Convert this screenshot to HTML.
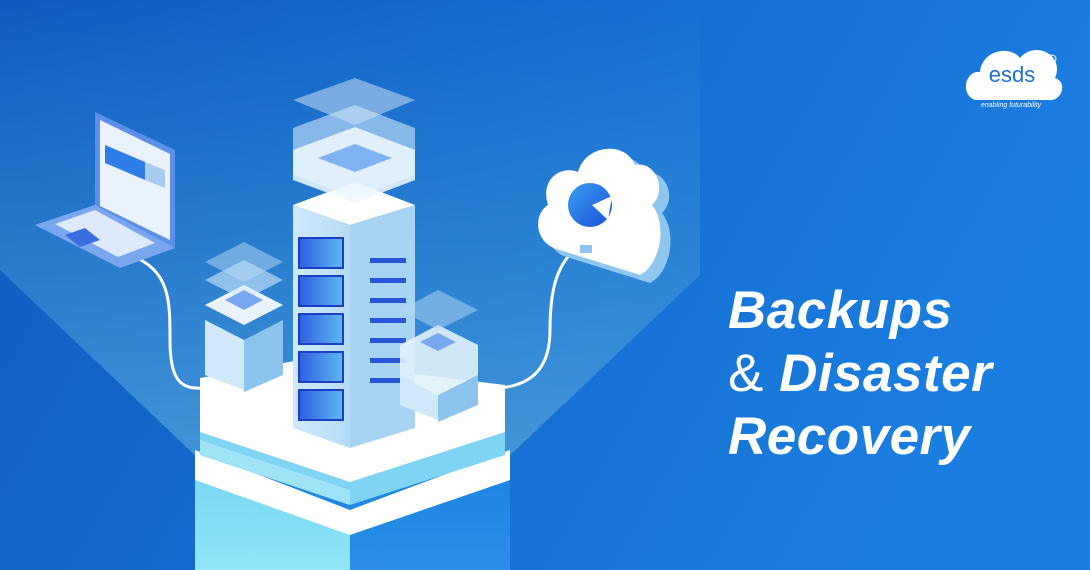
<!DOCTYPE html>
<html><head><meta charset="utf-8"><style>
html,body{margin:0;padding:0;width:1090px;height:570px;overflow:hidden}
.t{position:absolute;left:728px;color:#fff;font-family:"Liberation Sans",sans-serif;font-weight:bold;font-style:italic;font-size:53px;line-height:54px;letter-spacing:0.5px}
</style></head><body>
<div style="position:relative;width:1090px;height:570px">
<svg width="1090" height="570" viewBox="0 0 1090 570" style="position:absolute;left:0;top:0">
<defs>
<linearGradient id="bg" x1="0" y1="0" x2="1" y2="0.3"><stop offset="0" stop-color="#0f5bbd"/><stop offset="1" stop-color="#1a7ee0"/></linearGradient>
<linearGradient id="beam" x1="0" y1="0" x2="0" y2="1"><stop offset="0" stop-color="#3a90d6" stop-opacity="0"/><stop offset="0.35" stop-color="#3a90d6" stop-opacity="0.35"/><stop offset="1" stop-color="#4a9cd8" stop-opacity="0.85"/></linearGradient>
<linearGradient id="tw" x1="0" y1="0" x2="1" y2="0"><stop offset="0" stop-color="#cfe9fb"/><stop offset="1" stop-color="#b4dcf6"/></linearGradient>
<linearGradient id="base" x1="0" y1="0" x2="0" y2="1"><stop offset="0" stop-color="#7ad8f2"/><stop offset="1" stop-color="#8fe6f5"/></linearGradient>
<linearGradient id="baseR" x1="0" y1="0" x2="0" y2="1"><stop offset="0" stop-color="#1d86e0"/><stop offset="1" stop-color="#2a8fe6"/></linearGradient>
<linearGradient id="slot" x1="0" y1="0" x2="1" y2="0"><stop offset="0" stop-color="#2f5fe0"/><stop offset="1" stop-color="#5cb8f0"/></linearGradient>
<linearGradient id="pie" x1="0" y1="0" x2="1" y2="1"><stop offset="0" stop-color="#3aa0f0"/><stop offset="1" stop-color="#1a4fd8"/></linearGradient>
</defs>
<rect width="1090" height="570" fill="url(#bg)"/>
<polygon points="0,0 700,0 700,275 505,460 200,460 0,270" fill="url(#beam)"/>
<!-- platform -->
<polygon points="195,480 195,570 510,570 510,480" fill="url(#baseR)"/>
<polygon points="195,480 195,570 350,570 350,530" fill="url(#base)"/>
<polygon points="195,450 350,510 510,450 510,480 350,535 195,480" fill="#fff"/>
<polygon points="200,430 350,480 505,430 505,455 350,505 200,455" fill="#7fd3f3"/>
<polygon points="200,440 350,490 350,505 200,455" fill="#9ee4f6"/>
<polygon points="200,378 300,360 505,385 505,432 350,482 200,432" fill="#fff"/>
<!-- left small tower -->
<polygon points="205,320 244,340 244,390 205,375" fill="#cfe9fb"/>
<polygon points="244,340 283,320 283,375 244,392" fill="#8cc4ee"/>
<polygon points="205,305 244,285 283,305 244,325" fill="#fff" opacity="0.9"/>
<polygon points="205,280 244,260 283,280 244,300" fill="#d6ecfb" opacity="0.6"/>
<polygon points="205,262 244,242 283,262 244,282" fill="#b8d8f4" opacity="0.5"/>
<polygon points="225,300 244,290 263,300 244,310" fill="#7aa8f0"/>
<!-- main tower -->
<polygon points="293,205 350,225 350,448 293,428" fill="url(#tw)"/>
<polygon points="350,225 415,205 415,428 350,448" fill="#a7d4f2"/>
<polygon points="293,205 355,182 415,205 350,225" fill="#fff"/>
<polygon points="293,100 355,78 415,100 355,125" fill="#c9ddf4" opacity="0.55"/>
<polygon points="293,128 355,105 415,128 415,175 355,198 293,175" fill="#cde6fa" opacity="0.6"/>
<polygon points="293,150 355,127 415,150 415,180 355,203 293,180" fill="#eef8fe" opacity="0.85"/>
<polygon points="318,158 355,144 392,158 355,172" fill="#7fb2f2"/>
<g fill="url(#slot)" stroke="#1d3fc8" stroke-width="2">
<rect x="299" y="238" width="44" height="30"/>
<rect x="299" y="276" width="44" height="30"/>
<rect x="299" y="314" width="44" height="30"/>
<rect x="299" y="352" width="44" height="30"/>
<rect x="299" y="390" width="44" height="30"/>
</g>
<g fill="#2a55d8"><rect x="370" y="258" width="36" height="5"/><rect x="370" y="278" width="36" height="5"/><rect x="370" y="298" width="36" height="5"/><rect x="370" y="318" width="36" height="5"/><rect x="370" y="338" width="36" height="5"/><rect x="370" y="358" width="36" height="5"/><rect x="370" y="378" width="36" height="5"/></g>
<!-- right small tower -->
<polygon points="400,375 438,395 438,420 400,405" fill="#cfe9fb"/>
<polygon points="438,395 478,375 478,405 438,422" fill="#8cc4ee"/>
<polygon points="400,345 438,325 478,345 478,375 438,395 400,375" fill="#e0f2fc" opacity="0.9"/>
<polygon points="400,310 438,290 478,310 438,330" fill="#b8d8f4" opacity="0.5"/>
<polygon points="420,342 438,333 456,342 438,351" fill="#7aa8f0"/>
<!-- cables -->
<path d="M130,255 C170,270 170,300 170,340 C170,380 180,390 205,388" stroke="#fff" stroke-width="3" fill="none"/>
<path d="M585,240 C560,260 550,280 550,330 C550,370 530,385 500,388" stroke="#fff" stroke-width="3" fill="none"/>
<!-- laptop -->
<polygon points="95,112 175,150 175,248 95,210" fill="#5c8fe8"/>
<polygon points="100,120 170,154 170,240 100,206" fill="#e9f3fd"/>
<polygon points="105,145 145,162 145,180 105,163" fill="#2f7ee8"/>
<polygon points="145,162 165,170 165,188 145,180" fill="#a8cbf0"/>
<polygon points="35,225 95,205 175,248 120,268" fill="#7aa6ee"/>
<polygon points="55,224 95,210 155,243 118,257" fill="#dceafc"/>
<polygon points="65,235 85,228 100,240 80,247" fill="#3a6ee0"/>
<!-- cloud (standing) -->
<g transform="translate(10,8)">
<path d="M560,250 C535,245 532,215 548,205 C540,180 560,165 578,172 C585,145 625,140 635,165 C655,160 668,190 652,205 C668,225 660,265 640,275 Z" fill="#8ec6ef"/>
</g>
<path d="M560,250 C535,245 532,215 548,205 C540,180 560,165 578,172 C585,145 625,140 635,165 C655,160 668,190 652,205 C668,225 660,265 640,275 Z" fill="#fff"/>
<circle cx="590" cy="205" r="22" fill="url(#pie)"/>
<polygon points="592,205 612,196 608,220" fill="#fff"/>
<rect x="580" y="245" width="12" height="8" fill="#8ec6ef"/>
<!-- logo -->
<path d="M975,100 C960,95 965,70 980,72 C982,50 1010,45 1020,58 C1035,40 1065,55 1055,78 C1068,82 1062,102 1048,100 Z" fill="#fff"/>
<text x="1012" y="82" font-family="Liberation Sans,sans-serif" font-size="22" fill="#1d6fcf" text-anchor="middle">esds</text>
<text x="1011" y="107" font-family="Liberation Sans,sans-serif" font-size="7" font-style="italic" fill="#fff" text-anchor="middle">enabling futurability</text>
<circle cx="1052" cy="59" r="4" fill="none" stroke="#fff" stroke-width="1"/>
</svg>
<div class="t" style="top:284px">Backups</div>
<div class="t" style="top:347px"><span style="font-weight:normal;font-style:normal">&amp;</span> Disaster</div>
<div class="t" style="top:410px">Recovery</div>
</div>
</body></html>
